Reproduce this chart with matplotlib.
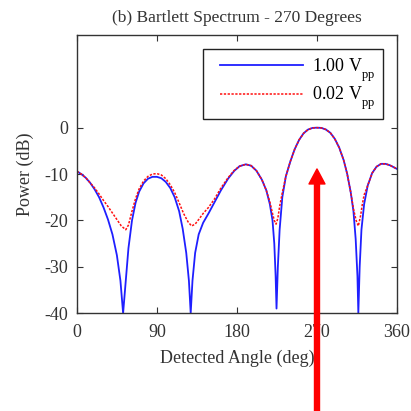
import numpy as np
import matplotlib
matplotlib.use("Agg")
import matplotlib.pyplot as plt
import matplotlib._mathtext as mathtext_internal
from matplotlib.legend_handler import HandlerLine2D

plt.rcParams['font.family'] = ['Liberation Serif', 'DejaVu Serif']
plt.rcParams['mathtext.fontset'] = 'custom'
plt.rcParams['mathtext.rm'] = 'Liberation Serif'
plt.rcParams['axes.unicode_minus'] = False
# the original drops the "pp" subscript well below the baseline
mathtext_internal.FontConstantsBase.sub1 = 0.7

# Bartlett spectrum (angle in deg, power in dB)
ang_hi = [0, 5, 10, 15, 20, 25, 30, 35, 40, 45, 49, 52, 55, 58, 62, 66, 70, 75,
          80, 85, 90, 95, 100, 105, 110, 115, 119, 123, 126, 128, 130, 133, 137,
          142, 148, 155, 162, 170, 177, 183, 190, 196, 202, 208, 213, 217, 220,
          222, 223.5, 224.5, 226, 228, 231, 235, 240, 245, 250, 255, 260, 265,
          270, 275, 280, 285, 290, 295, 300, 304, 308, 311, 313.5, 315.5, 316.5,
          318, 320, 323, 327, 332, 337, 342, 347, 352, 356, 360]
pow_hi = [-9.4, -10.0, -10.8, -11.9, -13.3, -15.0, -17.2, -19.8, -23.0, -27.5,
          -33, -40, -33, -26, -20, -16.2, -13.8, -12.0, -11.0, -10.6, -10.6,
          -10.9, -11.7, -13.0, -15.0, -18.0, -21.8, -27, -33, -40, -33, -27,
          -23, -20.5, -18.5, -16, -13.5, -11, -9.3, -8.3, -7.9, -8.2, -9.3,
          -11.2, -13.5, -16.5, -20, -25, -32, -39, -30, -22, -15, -10.5, -7.3,
          -4.6, -2.6, -1.2, -0.4, -0.05, 0, -0.05, -0.4, -1.1, -2.4, -4.3, -7.0,
          -10, -14, -18, -24, -32, -40, -30, -22, -16.5, -12.5, -9.8, -8.4,
          -7.8, -7.8, -8.1, -8.5, -8.9]

ang_lo = [0, 5, 10, 15, 20, 25, 30, 35, 40, 45, 50, 55, 58, 62, 66, 70, 75, 80,
          85, 90, 95, 100, 105, 110, 115, 120, 125, 129, 133, 137, 142, 148, 155,
          162, 170, 177, 183, 190, 196, 202, 208, 213, 217, 220, 222, 224, 226,
          228, 231, 235, 240, 245, 250, 255, 260, 265, 270, 275, 280, 285, 290,
          295, 300, 304, 308, 311, 314, 316.5, 319, 321, 323, 327, 332, 337, 342,
          347, 352, 356, 360]
pow_lo = [-9.4, -10.0, -10.8, -11.9, -13.0, -14.3, -15.7, -17.0, -18.4, -19.8,
          -21.2, -22.0, -21.0, -18.0, -15.3, -13.2, -11.5, -10.5, -10.0, -9.9,
          -10.2, -11.0, -12.3, -14.0, -16.2, -18.5, -20.3, -21.2, -20.8, -19.8,
          -18.5, -17.2, -15.3, -13, -10.8, -9.2, -8.3, -7.9, -8.2, -9.3, -11.2,
          -13.5, -16, -18.5, -20, -20.8, -19.5, -17, -14, -10.5, -7.3, -4.6,
          -2.6, -1.2, -0.4, -0.05, 0, -0.05, -0.4, -1.1, -2.4, -4.3, -7.0, -10,
          -14, -17.5, -20, -21.2, -19, -16.5, -14.5, -12.5, -9.8, -8.4, -7.8,
          -7.8, -8.1, -8.5, -8.9]

labels = ['1.00 V$_{\\rm pp}$', '0.02 V$_{\\rm pp}$']
xticks = [0, 90, 180, 270, 360]
yticks = [-40, -30, -20, -10, 0]
target_angle = 270

fig = plt.figure(figsize=(4.11, 4.11), dpi=100)
ax = fig.add_axes([0.187, 0.238, 0.779, 0.677])

l1, = ax.plot(ang_hi, pow_hi, color='#1f1fff', lw=1.3, label=labels[0])
l2, = ax.plot(ang_lo, pow_lo, color='#ff1010', lw=1.1, ls=(0, (1.5, 1)), label=labels[1])

ax.set_xlim(0, 360)
ax.set_ylim(-40, 20)
ax.set_xticks(xticks)
ax.set_yticks(yticks)
ax.tick_params(direction='in', top=True, right=True, labelsize=13, pad=6,
               length=4, colors='#333333', labelcolor='#333333')
ax.tick_params(axis='x', pad=8)
for s in ax.spines.values():
    s.set_color('#333333')
    s.set_linewidth(1.0)

ax.set_title('(b) Bartlett Spectrum - 270 Degrees', fontsize=12.5, color='#333333', pad=9)
ax.set_xlabel('Detected Angle (deg)', fontsize=13, color='#333333', labelpad=6)
ax.set_ylabel('Power (dB)', fontsize=13, color='#333333', labelpad=8)

# matlab-style legend: extra room left of the sample lines
hmap = {l1: HandlerLine2D(xpad=0.55), l2: HandlerLine2D(xpad=0.55)}
leg = ax.legend(loc='upper right', fontsize=13, handlelength=5.15, handletextpad=0.5,
                handler_map=hmap, fancybox=False, framealpha=1, edgecolor='#222222',
                borderaxespad=0.8, labelspacing=0.05, borderpad=0.4)
leg.get_frame().set_linewidth(1.0)

# red arrow pointing up at the true angle
ax.annotate('', xy=(target_angle, -8.9), xycoords='data',
            xytext=(317, 0), textcoords='figure pixels',
            arrowprops=dict(width=3.6, headwidth=11.5, headlength=10.8,
                            color='#ff0000', shrink=0),
            annotation_clip=False)

fig.savefig('out.png', dpi=100)
